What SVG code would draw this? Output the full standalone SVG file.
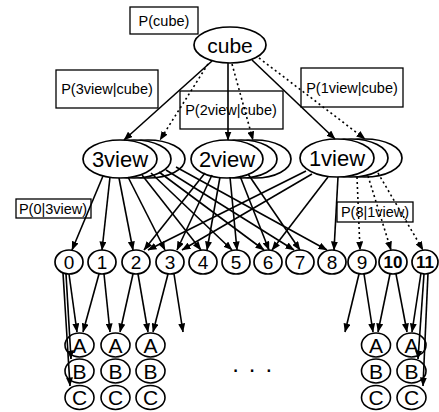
<svg xmlns="http://www.w3.org/2000/svg" width="439" height="412" viewBox="0 0 439 412">
<style>
text{font-family:"Liberation Sans",Arial,sans-serif;fill:#000;text-anchor:middle}
.n ellipse{fill:#fff;stroke:#000;stroke-width:1.7}
.abc ellipse{fill:none;stroke:#000;stroke-width:1.6}
.box{fill:none;stroke:#000;stroke-width:1.3}
.lbl{font-size:14.5px}
.view{font-size:22px}
.num{font-size:19px}
.bold{font-weight:bold;font-size:17px}
.let{font-size:21px}
.e line{stroke:#000;stroke-width:1.6;marker-end:url(#ah)}
.e line.d{stroke-dasharray:2 3}
</style>
<defs>
<marker id="ah" markerUnits="userSpaceOnUse" markerWidth="9" markerHeight="7" refX="8.5" refY="3.5" orient="auto">
<path d="M0,0 L9,3.5 L0,7 z" fill="#000"/>
</marker>
</defs>
<rect width="439" height="412" fill="#fff"/>

<g id="labels">
<rect class="box" x="130" y="7" width="68" height="27"/><text class="lbl" x="164" y="26">P(cube)</text>
<rect class="box" x="56" y="70" width="102" height="38"/><text class="lbl" x="107" y="94">P(3view|cube)</text>
<rect class="box" x="180" y="91" width="103" height="38"/><text class="lbl" x="231" y="115">P(2view|cube)</text>
<rect class="box" x="301" y="68" width="102" height="39"/><text class="lbl" x="352" y="93">P(1view|cube)</text>
<rect class="box" x="16" y="199" width="75" height="19"/><text class="lbl" x="53" y="214">P(0|3view)</text>
<rect class="box" x="337" y="202" width="76" height="20"/><text class="lbl" x="375" y="217">P(8|1view)</text>
</g>

<g id="cube" class="n"><ellipse cx="230" cy="45" rx="36" ry="18"/><text x="230" y="52.5" style="font-size:21px">cube</text></g>

<g id="v3" class="n">
<ellipse cx="148" cy="159" rx="37" ry="19"/><ellipse cx="134" cy="159" rx="37" ry="19"/><ellipse cx="120" cy="159" rx="37" ry="19"/>
<text class="view" x="120" y="167">3view</text></g>
<g id="v2" class="n">
<ellipse cx="255" cy="159" rx="36" ry="19"/><ellipse cx="241" cy="159" rx="36" ry="19"/><ellipse cx="227" cy="159" rx="36" ry="19"/>
<text class="view" x="227" y="167">2view</text></g>
<g id="v1" class="n">
<ellipse cx="365" cy="158" rx="37" ry="19"/><ellipse cx="351" cy="158" rx="37" ry="19"/><ellipse cx="337" cy="158" rx="37" ry="19"/>
<text class="view" x="337" y="166">1view</text></g>

<g id="p0" class="n"><ellipse cx="69" cy="262" rx="14" ry="12"/><text class="num" x="69" y="269">0</text></g>
<g id="p1" class="n"><ellipse cx="102" cy="262" rx="14" ry="12"/><text class="num" x="102" y="269">1</text></g>
<g id="p2" class="n"><ellipse cx="136" cy="262" rx="14" ry="12"/><text class="num" x="136" y="269">2</text></g>
<g id="p3" class="n"><ellipse cx="170" cy="262" rx="14" ry="12"/><text class="num" x="170" y="269">3</text></g>
<g id="p4" class="n"><ellipse cx="203" cy="262" rx="14" ry="12"/><text class="num" x="203" y="269">4</text></g>
<g id="p5" class="n"><ellipse cx="236" cy="262" rx="14" ry="12"/><text class="num" x="236" y="269">5</text></g>
<g id="p6" class="n"><ellipse cx="268" cy="262" rx="14" ry="12"/><text class="num" x="268" y="269">6</text></g>
<g id="p7" class="n"><ellipse cx="300" cy="262" rx="14" ry="12"/><text class="num" x="300" y="269">7</text></g>
<g id="p8" class="n"><ellipse cx="332" cy="262" rx="14" ry="12"/><text class="num" x="332" y="269">8</text></g>
<g id="p9" class="n"><ellipse cx="362" cy="262" rx="14" ry="12"/><text class="num" x="362" y="269">9</text></g>
<g id="p10" class="n"><ellipse cx="393" cy="262" rx="14" ry="12"/><text class="bold" x="393" y="268">10</text></g>
<g id="p11" class="n"><ellipse cx="425" cy="262" rx="13" ry="12"/><text class="bold" x="425" y="268">11</text></g>

<g id="c1" class="abc">
<ellipse cx="79.5" cy="345" rx="14.5" ry="12"/><text class="let" x="79.5" y="352.5">A</text>
<ellipse cx="79.5" cy="371" rx="14.5" ry="12"/><text class="let" x="79.5" y="378.5">B</text>
<ellipse cx="79.5" cy="397.5" rx="14.5" ry="12"/><text class="let" x="79.5" y="405">C</text></g>
<g id="c2" class="abc">
<ellipse cx="115.5" cy="345" rx="14.5" ry="12"/><text class="let" x="115.5" y="352.5">A</text>
<ellipse cx="115.5" cy="371" rx="14.5" ry="12"/><text class="let" x="115.5" y="378.5">B</text>
<ellipse cx="115.5" cy="397.5" rx="14.5" ry="12"/><text class="let" x="115.5" y="405">C</text></g>
<g id="c3" class="abc">
<ellipse cx="150.5" cy="345" rx="14.5" ry="12"/><text class="let" x="150.5" y="352.5">A</text>
<ellipse cx="150.5" cy="371" rx="14.5" ry="12"/><text class="let" x="150.5" y="378.5">B</text>
<ellipse cx="150.5" cy="397.5" rx="14.5" ry="12"/><text class="let" x="150.5" y="405">C</text></g>
<g id="c4" class="abc">
<ellipse cx="376" cy="345" rx="14.5" ry="12"/><text class="let" x="376" y="352.5">A</text>
<ellipse cx="376" cy="371" rx="14.5" ry="12"/><text class="let" x="376" y="378.5">B</text>
<ellipse cx="376" cy="397.5" rx="14.5" ry="12"/><text class="let" x="376" y="405">C</text></g>
<g id="c5" class="abc">
<ellipse cx="411.5" cy="345" rx="14.5" ry="12"/><text class="let" x="411.5" y="352.5">A</text>
<ellipse cx="411.5" cy="371" rx="14.5" ry="12"/><text class="let" x="411.5" y="378.5">B</text>
<ellipse cx="411.5" cy="397.5" rx="14.5" ry="12"/><text class="let" x="411.5" y="405">C</text></g>

<text id="dots" x="253" y="372" style="font-size:24px;letter-spacing:1.6px">. . .</text>

<g id="edges" class="e">
<line x1="212" y1="61" x2="124" y2="140"/>
<line class="d" x1="208" y1="64" x2="160" y2="140"/>
<line x1="228" y1="63" x2="228" y2="140"/>
<line class="d" x1="232" y1="64" x2="253" y2="140"/>
<line x1="252" y1="60" x2="335" y2="139"/>
<line class="d" x1="259" y1="58" x2="365" y2="139"/>

<line x1="103" y1="176" x2="72" y2="250"/>
<line x1="110" y1="177" x2="102" y2="250"/>
<line x1="119" y1="178" x2="133" y2="250"/>
<line x1="128" y1="177" x2="165" y2="250"/>
<line x1="142" y1="175" x2="201" y2="250"/>
<line x1="151" y1="173" x2="232" y2="250"/>
<line x1="159" y1="172" x2="264" y2="250"/>
<line x1="166" y1="170" x2="294" y2="250"/>
<line x1="176" y1="167" x2="327" y2="250"/>

<line x1="205" y1="173" x2="144" y2="250"/>
<line x1="212" y1="175" x2="177" y2="250"/>
<line x1="220" y1="177" x2="207" y2="250"/>
<line x1="230" y1="177" x2="237" y2="250"/>
<line x1="240" y1="176" x2="269" y2="250"/>
<line x1="248" y1="174" x2="300" y2="250"/>

<line x1="306" y1="171" x2="148" y2="250"/>
<line x1="312" y1="174" x2="182" y2="250"/>
<line x1="328" y1="177" x2="272" y2="250"/>
<line x1="338" y1="177" x2="334" y2="250"/>
<line class="d" x1="357" y1="177" x2="360" y2="250"/>
<line class="d" x1="368" y1="176" x2="391" y2="250"/>
<line class="d" x1="378" y1="173" x2="423" y2="250"/>

<line x1="63" y1="273" x2="70" y2="386"/>
<line x1="66" y1="274" x2="71" y2="359"/>
<line x1="69" y1="274" x2="77" y2="332"/>
<line x1="99" y1="274" x2="83" y2="332"/>
<line x1="104" y1="274" x2="110" y2="332"/>
<line x1="133" y1="274" x2="120" y2="332"/>
<line x1="138" y1="274" x2="148" y2="332"/>
<line x1="168" y1="274" x2="153" y2="332"/>
<line x1="174" y1="274" x2="183" y2="332"/>
<line x1="359" y1="274" x2="345" y2="332"/>
<line x1="364" y1="274" x2="373" y2="332"/>
<line x1="390" y1="274" x2="378" y2="332"/>
<line x1="396" y1="274" x2="407" y2="332"/>
<line x1="421" y1="273" x2="412" y2="332"/>
<line x1="424" y1="274" x2="418" y2="359"/>
<line x1="428" y1="273" x2="423" y2="386"/>
</g>
</svg>
